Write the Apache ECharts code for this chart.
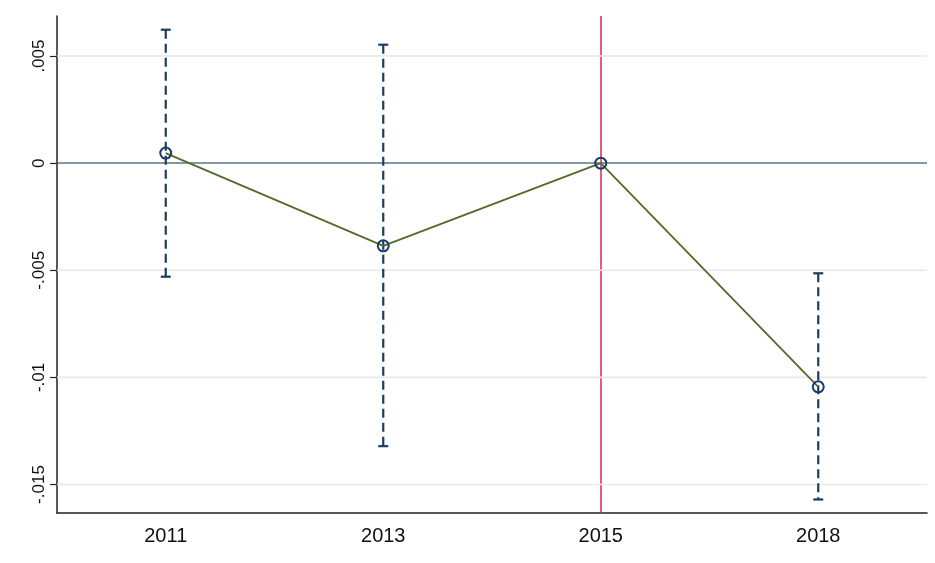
<!DOCTYPE html>
<html>
<head>
<meta charset="utf-8">
<script src="https://cdn.jsdelivr.net/npm/echarts@6/dist/echarts.min.js"></script>
<style>
html,body{margin:0;padding:0;background:#fff;}
#chart{width:935px;height:563px;}
</style>
</head>
<body>
<div id="chart"></div>
<script>
const categories = ['2011', '2013', '2015', '2018'];
const estimates = [0.00047, -0.00386, 0, -0.01044];
const ciLow = [-0.0053, -0.01321, null, -0.0157];
const ciHigh = [0.00623, 0.00553, null, -0.00514];
const yTicks = [0.005, 0, -0.005, -0.01, -0.015];
const yTickLabels = ['.005', '0', '-.005', '-.01', '-.015'];
const gridTicks = [0.005, -0.005, -0.01, -0.015];
const refCategory = '2015';

const errData = [];
categories.forEach((c, i) => {
  if (ciLow[i] !== null) errData.push([i, ciLow[i], ciHigh[i]]);
});

const chart = echarts.init(document.getElementById('chart'));
chart.setOption({
  animation: false,
  backgroundColor: '#ffffff',
  grid: { left: 57, right: 8, top: 16, bottom: 50 },
  xAxis: {
    type: 'category',
    data: categories,
    boundaryGap: true,
    axisLine: { onZero: false, lineStyle: { color: '#222', width: 1.5 } },
    axisTick: { alignWithLabel: true, length: 7, lineStyle: { color: '#222', width: 1.2 } },
    axisLabel: { fontFamily: 'Liberation Sans, Arial', fontSize: 20, color: '#111', margin: 13 },
    splitLine: { show: false }
  },
  yAxis: {
    type: 'value',
    min: -0.01633,
    max: 0.00687,
    axisLine: { show: true, onZero: false, lineStyle: { color: '#222', width: 1.5 } },
    axisTick: { show: true, length: 7, customValues: yTicks, lineStyle: { color: '#222', width: 1.2 } },
    axisLabel: {
      customValues: yTicks,
      rotate: 90,
      margin: 9,
      fontFamily: 'Liberation Sans, Arial',
      fontSize: 17,
      color: '#111',
      formatter: function (v) {
        const idx = yTicks.findIndex(t => Math.abs(t - v) < 1e-9);
        return idx >= 0 ? yTickLabels[idx] : '';
      }
    },
    splitLine: { show: false }
  },
  series: [
    {
      type: 'custom',
      z: 1,
      silent: true,
      data: gridTicks.map(v => [0, v]),
      renderItem: function (params, api) {
        const y = api.coord([0, api.value(1)])[1];
        const cs = params.coordSys;
        return {
          type: 'line',
          shape: { x1: cs.x, y1: y, x2: cs.x + cs.width, y2: y },
          style: { stroke: '#e5e9e9', lineWidth: 1.6 }
        };
      }
    },
    {
      type: 'custom',
      z: 2,
      data: errData,
      renderItem: function (params, api) {
        const x = api.value(0);
        const lo = api.coord([x, api.value(1)]);
        const hi = api.coord([x, api.value(2)]);
        const cap = 5;
        const style = { stroke: '#1c3d5e', lineWidth: 2.2 };
        return {
          type: 'group',
          children: [
            { type: 'line', shape: { x1: hi[0], y1: hi[1], x2: lo[0], y2: lo[1] },
              style: Object.assign({ lineDash: [9, 5] }, style) },
            { type: 'line', shape: { x1: hi[0] - cap, y1: hi[1], x2: hi[0] + cap, y2: hi[1] }, style: style },
            { type: 'line', shape: { x1: lo[0] - cap, y1: lo[1], x2: lo[0] + cap, y2: lo[1] }, style: style }
          ]
        };
      }
    },
    {
      type: 'line',
      z: 3,
      data: estimates,
      symbol: 'circle',
      symbolSize: 11,
      lineStyle: { color: '#56692c', width: 1.8 },
      itemStyle: { color: 'rgba(255,255,255,0)', borderColor: '#1a3a6c', borderWidth: 2 },
      markLine: {
        silent: true,
        symbol: 'none',
        label: { show: false },
        z: 1,
        data: [
          { yAxis: 0, lineStyle: { color: '#5e7585', width: 1.5, type: 'solid' } },
          { xAxis: refCategory, lineStyle: { color: '#d42a52', width: 1.5, type: 'solid' } }
        ]
      }
    }
  ]
});
</script>
</body>
</html>
